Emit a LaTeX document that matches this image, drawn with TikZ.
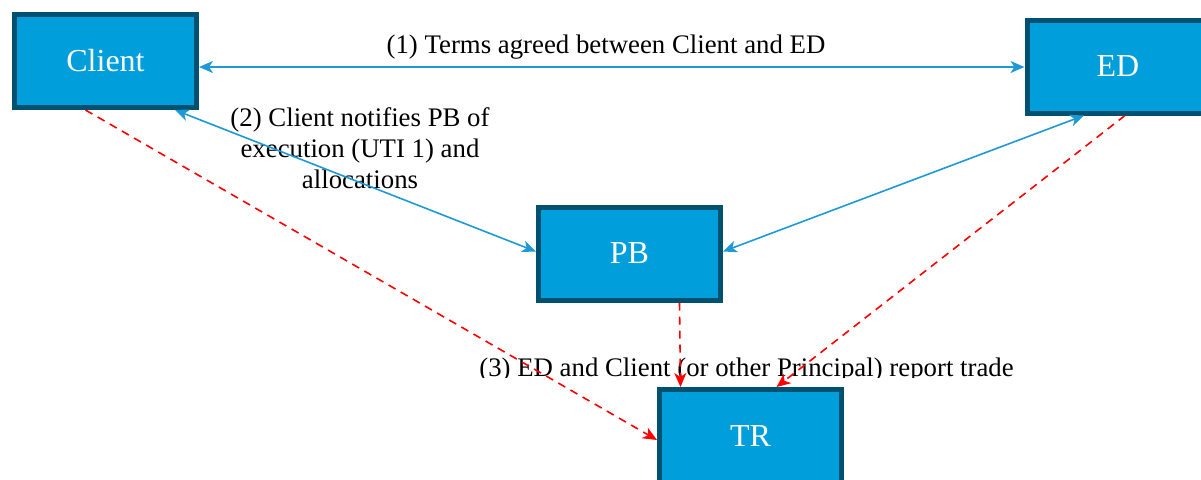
\documentclass[tikz,border=0pt]{standalone}
\usepackage{fontspec}
\setmainfont{Liberation Serif}
\usetikzlibrary{arrows.meta}
\definecolor{boxfill}{HTML}{009FDC}
\definecolor{boxline}{HTML}{00506F}
\definecolor{arrblue}{HTML}{1D9AD6}
\definecolor{arrred}{HTML}{FF0000}
\tikzset{
  entity/.style={draw=boxline, fill=boxfill, line width=2.5pt, minimum width=91pt, minimum height=46.5pt,
    text=white, font=\fontsize{16}{19}\selectfont, inner sep=0pt},
  bluearr/.style={draw=arrblue, line width=0.8pt, {Stealth[length=7pt,width=6pt,inset=2pt]}-{Stealth[length=7pt,width=6pt,inset=2pt]}},
  redarr/.style={draw=arrred, line width=0.8pt, dashed, dash pattern=on 4pt off 3pt, -{Stealth[length=7pt,width=6pt,inset=2pt]}},
  lbl/.style={font=\fontsize{13.4}{15.3}\selectfont, align=center, inner sep=0pt}
}
\begin{document}
\begin{tikzpicture}[x=0.5pt,y=-0.5pt]
\useasboundingbox (0,0) rectangle (1201,479);
\clip (0,0) rectangle (1201,479);
\begin{scope}
\clip (0,0) rectangle (1201,377);
\node[lbl, anchor=base] (l3) at (746.5,376) {(3) ED and Client (or other Principal) report trade};
\end{scope}
\node[entity] (client) at (105.5,61) {Client};
\node[entity] (ed) at (1118,66.5) {ED};
\node[entity] (pb) at (629.5,253.5) {PB};
\node[entity] (tr) at (750.5,436) {TR};
\node[lbl, anchor=base] (l1) at (606,53) {(1) Terms agreed between Client and ED};
\node[lbl, anchor=base] (l2) at (360,188) {(2) Client notifies PB of\\execution (UTI 1) and\\allocations};
\draw[bluearr] ([yshift=-3pt]client.east) -- ([yshift=-0.25pt]ed.west);
\draw[bluearr] ([xshift=-12pt]client.south east) -- ([yshift=1pt]pb.west);
\draw[bluearr] ([xshift=-17pt]ed.south) -- ([yshift=1pt]pb.east);
\draw[redarr] ([xshift=-10pt]client.south) -- ([yshift=-2pt]tr.west);
\draw[redarr] ([xshift=25pt]pb.south) -- ([xshift=-35pt]tr.north);
\draw[redarr] ([xshift=3.5pt]ed.south) -- ([xshift=13pt]tr.north);
\end{tikzpicture}
\end{document}
